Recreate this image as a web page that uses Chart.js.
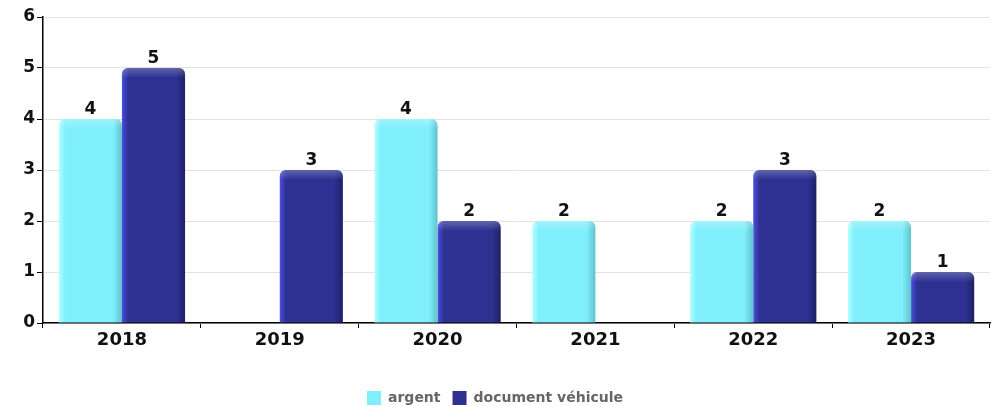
<!DOCTYPE html>
<html>
<head>
<meta charset="utf-8">
<script src="https://cdn.jsdelivr.net/npm/chart.js@4"></script>
<style>
  html, body { margin: 0; padding: 0; background: #fff; }
  #wrap { width: 998px; height: 406px; }
</style>
</head>
<body>
<div id="wrap"><canvas id="myChart" width="998" height="406"></canvas></div>
<script>
const years = ['2018', '2019', '2020', '2021', '2022', '2023'];
const argent = [4, null, 4, 2, 2, 2];
const documentVehicule = [5, 3, 2, null, 3, 1];
const yTicks = [0, 1, 2, 3, 4, 5, 6];

// shading colours per series: left edge, face, right edge
const shades = {
  argent: ['#b4ffff', '#80effc', '#5ec3cc'],
  doc: ['#4a4fe0', '#2e3192', '#1e2066']
};

// gives every bar its own horizontal gradient so it looks like a rounded block
const barShading = {
  id: 'barShading',
  beforeDatasetsDraw(chart) {
    const ctx = chart.ctx;
    chart.data.datasets.forEach((ds, i) => {
      const meta = chart.getDatasetMeta(i);
      const s = shades[ds.shadeKey];
      meta.data.forEach(bar => {
        const left = bar.x - bar.width / 2;
        const g = ctx.createLinearGradient(left, 0, left + bar.width, 0);
        g.addColorStop(0, s[0]);
        g.addColorStop(0.1, s[1]);
        g.addColorStop(0.86, s[1]);
        g.addColorStop(1, s[2]);
        // options are shared between bars, so give each one a copy
        bar.options = Object.assign({}, bar.options, { backgroundColor: g });
      });
    });
  },
  afterDatasetsDraw(chart) {
    const ctx = chart.ctx;
    ctx.save();
    chart.data.datasets.forEach((ds, i) => {
      const meta = chart.getDatasetMeta(i);
      meta.data.forEach((bar, j) => {
        const v = ds.data[j];
        if (v === null) return;
        // soft highlight along the top edge
        const left = bar.x - bar.width / 2;
        const hg = ctx.createLinearGradient(0, bar.y, 0, bar.y + 10);
        hg.addColorStop(0, 'rgba(255,255,255,0.25)');
        hg.addColorStop(1, 'rgba(255,255,255,0)');
        ctx.fillStyle = hg;
        ctx.beginPath();
        ctx.roundRect(left, bar.y, bar.width, 10, [6, 6, 0, 0]);
        ctx.fill();

        ctx.font = 'bold 17px "DejaVu Sans"';
        ctx.fillStyle = '#111';
        ctx.textAlign = 'center';
        ctx.textBaseline = 'alphabetic';
        ctx.fillText(v, bar.x, bar.y - 5);
      });
    });
    ctx.restore();
  }
};

const ctx = document.getElementById('myChart');

new Chart(ctx, {
  type: 'bar',
  data: {
    labels: years,
    datasets: [{
      label: 'argent',
      shadeKey: 'argent',
      data: argent,
      backgroundColor: '#80effc',
      borderRadius: { topLeft: 6, topRight: 6 },
      borderSkipped: 'bottom',
      categoryPercentage: 0.8,
      barPercentage: 1.0
    }, {
      label: 'document véhicule',
      shadeKey: 'doc',
      data: documentVehicule,
      backgroundColor: '#2e3192',
      borderRadius: { topLeft: 6, topRight: 6 },
      borderSkipped: 'bottom',
      categoryPercentage: 0.8,
      barPercentage: 1.0
    }]
  },
  options: {
    responsive: false,
    animation: false,
    layout: { padding: { top: 17, right: 8, left: 0, bottom: -9 } },
    scales: {
      x: {
        grid: {
          drawOnChartArea: false,
          tickColor: '#000',
          tickLength: 5,
          offset: true
        },
        border: { color: '#000', width: 1.5 },
        ticks: {
          color: '#111',
          font: { family: 'DejaVu Sans', size: 18, weight: 'bold' },
          padding: 2
        },
        afterFit(scale) { scale.height = 56; }
      },
      y: {
        min: 0,
        max: 6,
        afterBuildTicks(scale) { scale.ticks = yTicks.map(v => ({ value: v })); },
        grid: {
          color: '#e2e2e2',
          tickColor: '#000',
          tickLength: 6
        },
        border: { color: '#000', width: 1.5 },
        ticks: {
          color: '#111',
          font: { family: 'DejaVu Sans', size: 17, weight: 'bold' },
          padding: 2
        },
        afterFit(scale) { scale.width = 43; }
      }
    },
    plugins: {
      legend: {
        position: 'bottom',
        labels: {
          boxWidth: 14,
          boxHeight: 14,
          color: '#666',
          padding: 12,
          font: { family: 'DejaVu Sans', size: 14, weight: 'bold' }
        }
      },
      tooltip: { enabled: false }
    }
  },
  plugins: [barShading]
});
</script>
</body>
</html>
